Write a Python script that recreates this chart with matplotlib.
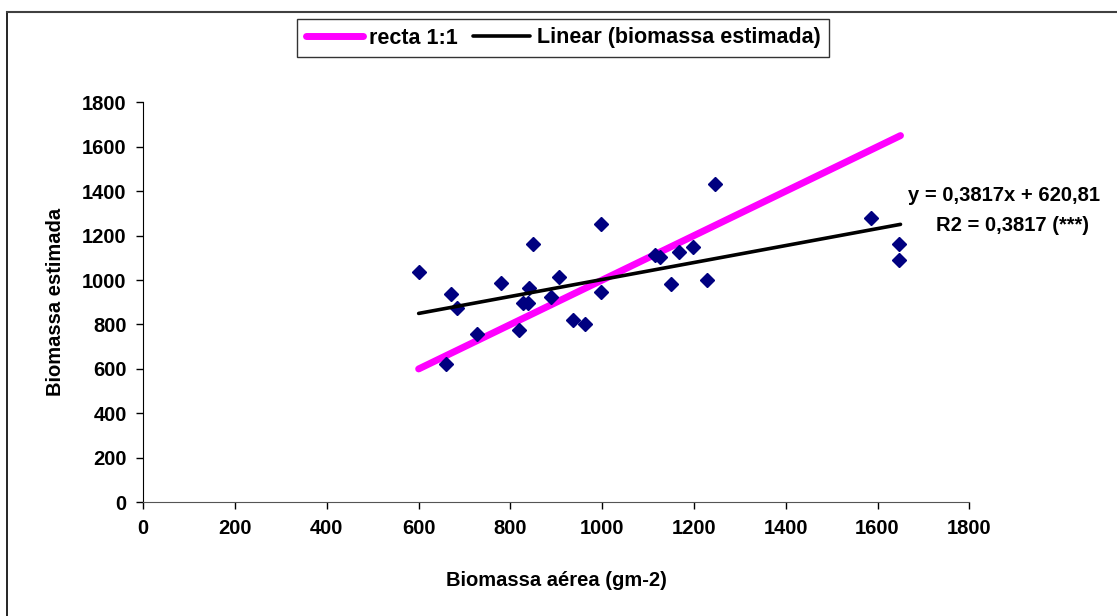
import matplotlib
matplotlib.use('Agg')
import matplotlib.pyplot as plt
from matplotlib.lines import Line2D
import numpy as np

plt.rcParams['font.family'] = ['Liberation Sans', 'DejaVu Sans']
plt.rcParams['font.weight'] = 'bold'

# measured vs. estimated biomass
biomassa_aerea = [600, 670, 683, 660, 727, 779, 819, 849, 840, 827, 838, 888,
                  906, 936, 962, 997, 997, 1115, 1126, 1150, 1167, 1198, 1246,
                  1228, 1586, 1647, 1647]
biomassa_estimada = [1035, 935, 874, 622, 755, 988, 775, 1160, 963, 895, 897,
                     924, 1015, 818, 800, 1250, 944, 1114, 1104, 980, 1124,
                     1150, 1430, 998, 1277, 1160, 1088]

recta_x = [600, 1650]
slope = 0.3817
intercept = 620.81
ticks = [0, 200, 400, 600, 800, 1000, 1200, 1400, 1600, 1800]

fs = 14.5

fig = plt.figure(figsize=(11.17, 6.16), dpi=100)
ax = fig.add_axes([0.1283, 0.1846, 0.7395, 0.6494])

ax.plot(biomassa_aerea, biomassa_estimada, linestyle='none', marker='D',
        markersize=7, color='#000080', zorder=3)
ax.plot(recta_x, recta_x, color='#ff00ff', linewidth=5,
        solid_capstyle='round', label='recta 1:1', zorder=2)
fit_x = np.array(recta_x)
ax.plot(fit_x, slope * fit_x + intercept, color='black', linewidth=2.6,
        solid_capstyle='round', label='Linear (biomassa estimada)', zorder=4)

ax.set_xlim(0, 1800)
ax.set_ylim(0, 1800)
ax.set_xticks(ticks)
ax.set_yticks(ticks)
ax.tick_params(labelsize=fs, direction='out', length=5, width=1, pad=7)
for lab in ax.get_xticklabels() + ax.get_yticklabels():
    lab.set_fontweight('bold')

ax.spines['top'].set_visible(False)
ax.spines['right'].set_visible(False)
ax.spines['left'].set_color('black')
ax.spines['bottom'].set_color('#555555')

ax.set_xlabel('Biomassa aérea (gm-2)', fontsize=fs, fontweight='bold', labelpad=24)
ax.set_ylabel('Biomassa estimada', fontsize=fs, fontweight='bold', labelpad=12)

ax.text(1004 / 1117, 1 - 196 / 616, 'y = 0,3817x + 620,81', transform=fig.transFigure,
        ha='center', va='center', fontsize=fs, fontweight='bold')
ax.text(1013 / 1117, 1 - 226 / 616, 'R2 = 0,3817 (***)', transform=fig.transFigure,
        ha='center', va='center', fontsize=fs, fontweight='bold')

leg = fig.legend(loc='center', bbox_to_anchor=(563 / 1117, 1 - 38 / 616), ncol=2,
                 frameon=True, fancybox=False, edgecolor='black',
                 handlelength=2.65, handletextpad=0.3, columnspacing=0.7,
                 borderpad=0.4, borderaxespad=0,
                 prop={'weight': 'bold', 'size': 15.5})
leg.get_frame().set_linewidth(1)

# outer chart frame (only top and left visible in the crop)
fig.add_artist(Line2D([7 / 1117, 7 / 1117], [0, 1 - 12 / 616], color='black', linewidth=1.2))
fig.add_artist(Line2D([7 / 1117, 1], [1 - 12 / 616, 1 - 12 / 616], color='#404040', linewidth=1.5))

fig.savefig('out.png', dpi=100, facecolor='white')
